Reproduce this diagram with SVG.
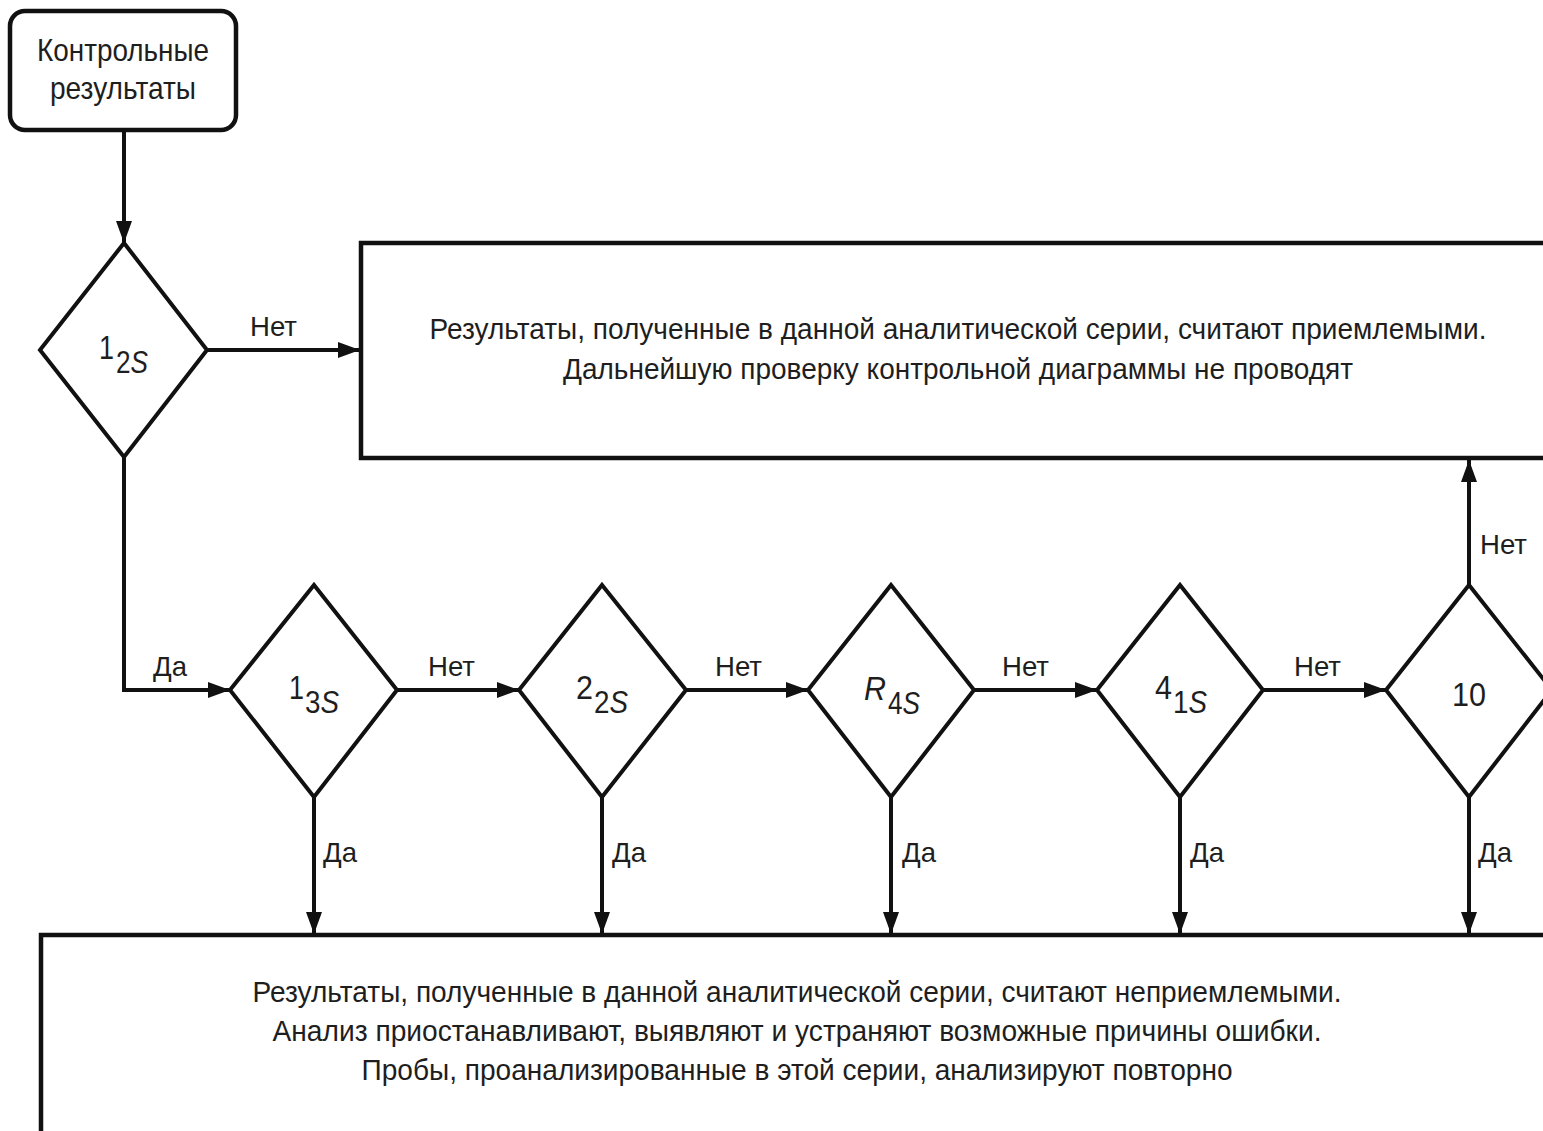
<svg xmlns="http://www.w3.org/2000/svg" width="1543" height="1131" viewBox="0 0 1543 1131">
<style>
.box{fill:#fff;stroke:#111;stroke-width:4.5}
.dia{fill:#fff;stroke:#111;stroke-width:4}
.ln{fill:none;stroke:#111;stroke-width:4}
.t{font-family:"Liberation Sans",Arial,sans-serif;fill:#1e1e1e;font-size:29px}
.c{text-anchor:middle}
.lbl{font-family:"Liberation Sans",Arial,sans-serif;fill:#1e1e1e;font-size:28px}
.it{font-style:italic}
.big{font-size:34px}
.sub{font-size:31px}
.st{font-size:32px}
</style>
<defs>
<marker id="ah" markerUnits="userSpaceOnUse" markerWidth="22" markerHeight="16" refX="22" refY="8" orient="auto">
<path d="M0,0 L22,8 L0,16 z" fill="#111"/>
</marker>
</defs>
<rect width="1543" height="1131" fill="#fff"/>

<g id="connectors">
<line class="ln" x1="124" y1="131" x2="124" y2="243" marker-end="url(#ah)"/>
<line class="ln" x1="207" y1="350" x2="360" y2="350" marker-end="url(#ah)"/>
<polyline class="ln" points="124,457 124,690 230,690" marker-end="url(#ah)"/>
<line class="ln" x1="397" y1="690" x2="519" y2="690" marker-end="url(#ah)"/>
<line class="ln" x1="686" y1="690" x2="808" y2="690" marker-end="url(#ah)"/>
<line class="ln" x1="974" y1="690" x2="1097" y2="690" marker-end="url(#ah)"/>
<line class="ln" x1="1263" y1="690" x2="1386" y2="690" marker-end="url(#ah)"/>
<line class="ln" x1="314" y1="797" x2="314" y2="934" marker-end="url(#ah)"/>
<line class="ln" x1="602" y1="797" x2="602" y2="934" marker-end="url(#ah)"/>
<line class="ln" x1="891" y1="797" x2="891" y2="934" marker-end="url(#ah)"/>
<line class="ln" x1="1180" y1="797" x2="1180" y2="934" marker-end="url(#ah)"/>
<line class="ln" x1="1469" y1="797" x2="1469" y2="934" marker-end="url(#ah)"/>
<line class="ln" x1="1469" y1="585" x2="1469" y2="460" marker-end="url(#ah)"/>
<text class="lbl" x="250" y="336" textLength="47" lengthAdjust="spacingAndGlyphs">Нет</text>
<text class="lbl" x="153" y="676" textLength="34" lengthAdjust="spacingAndGlyphs">Да</text>
<text class="lbl" x="428" y="676" textLength="47" lengthAdjust="spacingAndGlyphs">Нет</text>
<text class="lbl" x="715" y="676" textLength="47" lengthAdjust="spacingAndGlyphs">Нет</text>
<text class="lbl" x="1002" y="676" textLength="47" lengthAdjust="spacingAndGlyphs">Нет</text>
<text class="lbl" x="1294" y="676" textLength="47" lengthAdjust="spacingAndGlyphs">Нет</text>
<text class="lbl" x="1480" y="554" textLength="47" lengthAdjust="spacingAndGlyphs">Нет</text>
<text class="lbl" x="323" y="862" textLength="34" lengthAdjust="spacingAndGlyphs">Да</text>
<text class="lbl" x="612" y="862" textLength="34" lengthAdjust="spacingAndGlyphs">Да</text>
<text class="lbl" x="902" y="862" textLength="34" lengthAdjust="spacingAndGlyphs">Да</text>
<text class="lbl" x="1190" y="862" textLength="34" lengthAdjust="spacingAndGlyphs">Да</text>
<text class="lbl" x="1478" y="862" textLength="34" lengthAdjust="spacingAndGlyphs">Да</text>
</g>

<g id="start">
<rect class="box" x="10" y="11" width="226" height="119" rx="15" stroke-width="5"/>
<text class="t c st" x="123" y="61" textLength="172" lengthAdjust="spacingAndGlyphs">Контрольные</text>
<text class="t c st" x="123" y="99" textLength="146" lengthAdjust="spacingAndGlyphs">результаты</text>
</g>

<g id="d12s">
<polygon class="dia" points="124,243 207,350 124,457 40,350"/>
<text class="t big" x="99" y="359" textLength="15" lengthAdjust="spacingAndGlyphs">1</text>
<text class="t sub" x="116" y="373" textLength="32" lengthAdjust="spacingAndGlyphs">2<tspan class="it">S</tspan></text>
</g>

<g id="accept">
<rect class="box" x="361" y="243" width="1200" height="215"/>
<text class="t c" x="958" y="339" textLength="1057" lengthAdjust="spacingAndGlyphs">Результаты, полученные в данной аналитической серии, считают приемлемыми.</text>
<text class="t c" x="958" y="379" textLength="790" lengthAdjust="spacingAndGlyphs">Дальнейшую проверку контрольной диаграммы не проводят</text>
</g>

<g id="d13s">
<polygon class="dia" points="314,585 397,690 314,797 230,690"/>
<text class="t big" x="289" y="699" textLength="15" lengthAdjust="spacingAndGlyphs">1</text>
<text class="t sub" x="305" y="713" textLength="34" lengthAdjust="spacingAndGlyphs">3<tspan class="it">S</tspan></text>
</g>

<g id="d22s">
<polygon class="dia" points="602,585 686,690 602,797 519,690"/>
<text class="t big" x="576" y="699" textLength="17" lengthAdjust="spacingAndGlyphs">2</text>
<text class="t sub" x="594" y="713" textLength="34" lengthAdjust="spacingAndGlyphs">2<tspan class="it">S</tspan></text>
</g>

<g id="dr4s">
<polygon class="dia" points="891,585 974,690 891,797 808,690"/>
<text class="t it big" x="864" y="700" textLength="22" lengthAdjust="spacingAndGlyphs">R</text>
<text class="t sub" x="888" y="714" textLength="32" lengthAdjust="spacingAndGlyphs">4<tspan class="it">S</tspan></text>
</g>

<g id="d41s">
<polygon class="dia" points="1180,585 1263,690 1180,797 1097,690"/>
<text class="t big" x="1155" y="699" textLength="17" lengthAdjust="spacingAndGlyphs">4</text>
<text class="t sub" x="1173" y="713" textLength="34" lengthAdjust="spacingAndGlyphs">1<tspan class="it">S</tspan></text>
</g>

<g id="d10">
<polygon class="dia" points="1469,585 1552,690 1469,797 1386,690"/>
<text class="t c big" x="1469" y="706" textLength="34" lengthAdjust="spacingAndGlyphs">10</text>
</g>

<g id="reject">
<rect class="box" x="41" y="935" width="1520" height="220"/>
<text class="t c" x="797" y="1002" textLength="1089" lengthAdjust="spacingAndGlyphs">Результаты, полученные в данной аналитической серии, считают неприемлемыми.</text>
<text class="t c" x="797" y="1041" textLength="1049" lengthAdjust="spacingAndGlyphs">Анализ приостанавливают, выявляют и устраняют возможные причины ошибки.</text>
<text class="t c" x="797" y="1080" textLength="871" lengthAdjust="spacingAndGlyphs">Пробы, проанализированные в этой серии, анализируют повторно</text>
</g>
</svg>
